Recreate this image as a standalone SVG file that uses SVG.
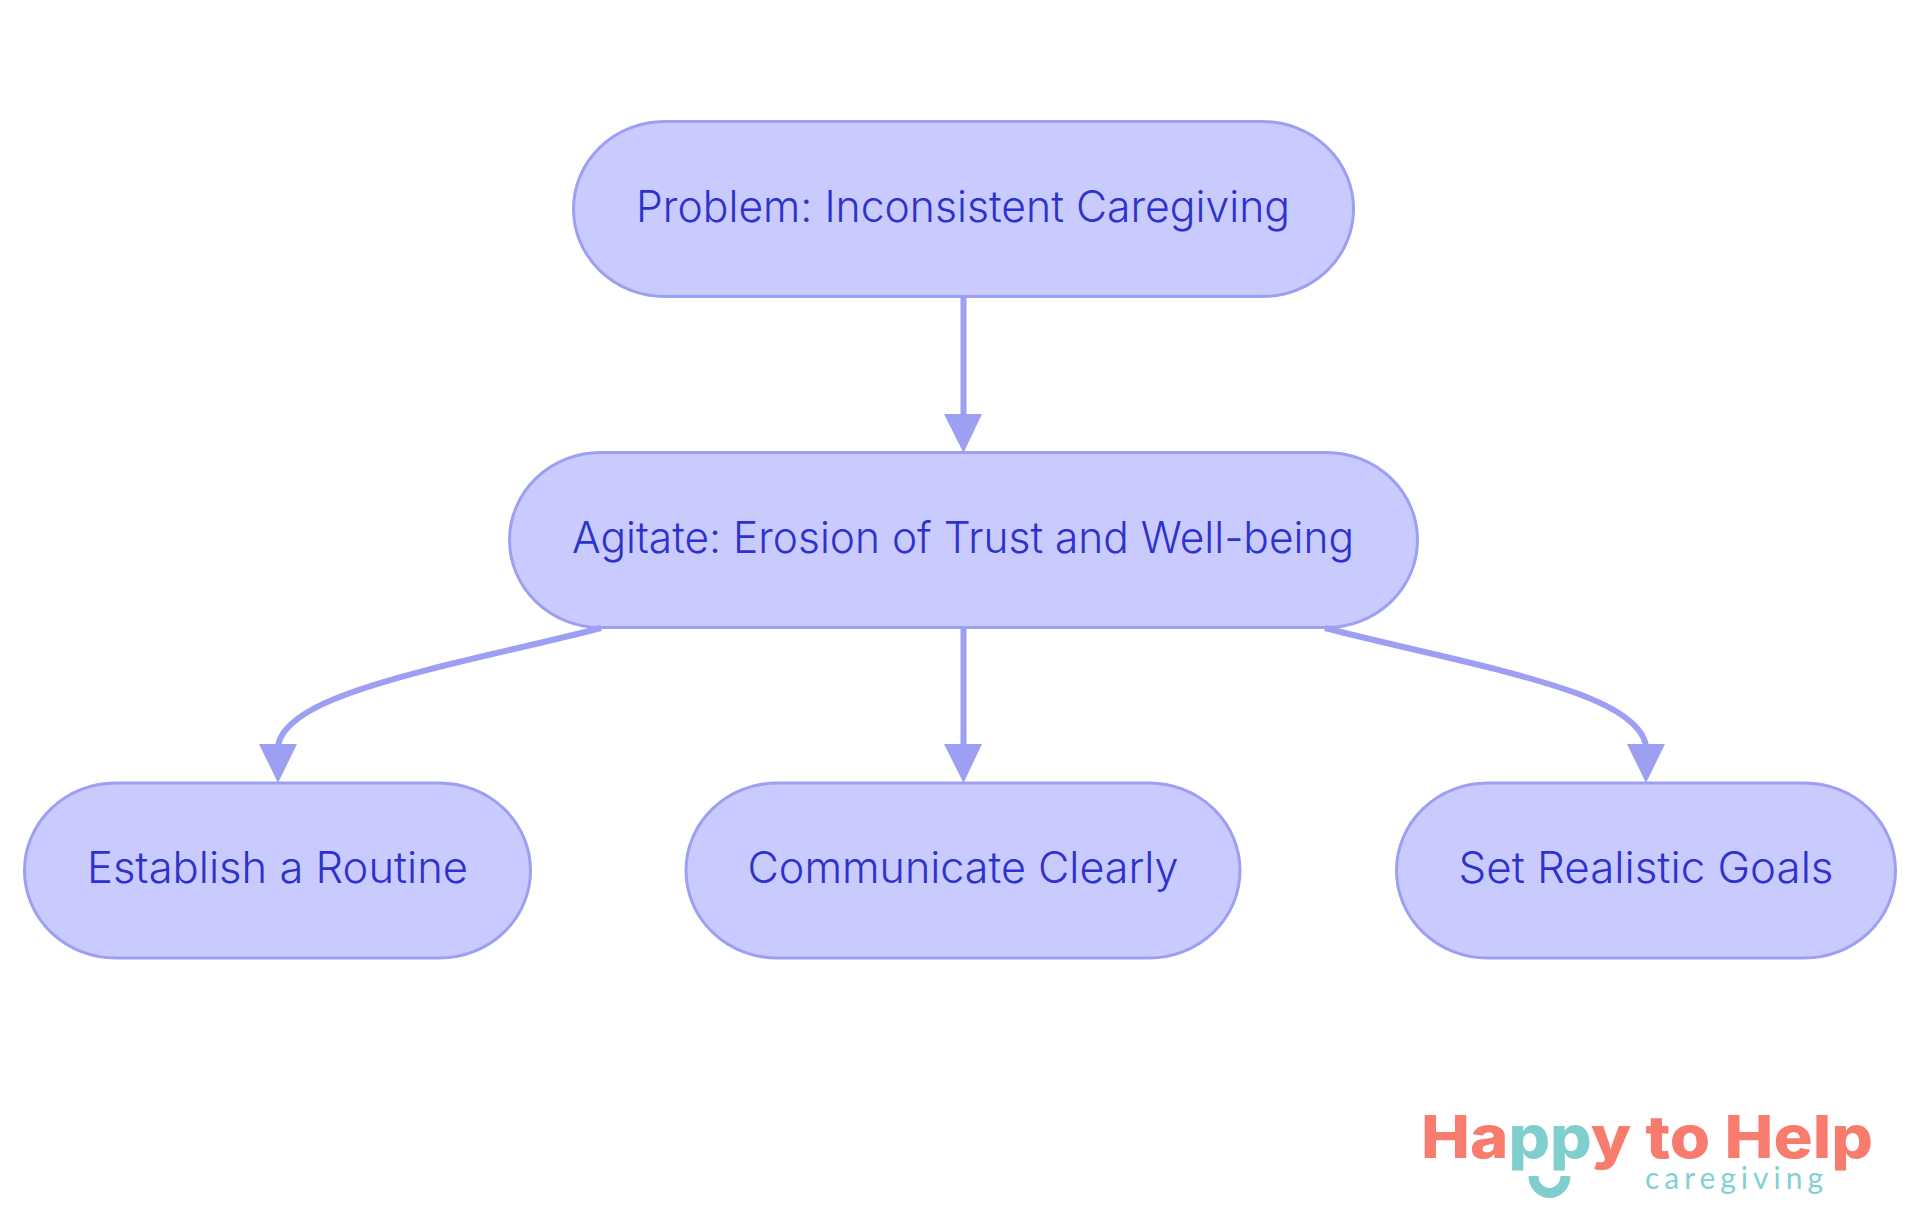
<svg xmlns="http://www.w3.org/2000/svg" width="1920" height="1215" viewBox="0 0 1920 1215">
<style>
.n{fill:#c9cbff;stroke:#9c9ff2;stroke-width:3}
.t{font-family:"Inter","Noto Sans",sans-serif;font-size:43px;font-weight:350;fill:#2d32cc;text-anchor:middle}
.c{fill:none;stroke:#9c9ff2;stroke-width:6}
.a{fill:#9c9ff2}
.l{font-family:"Inter",sans-serif;font-weight:800;font-size:59px;fill:#f87c6d}
.g{font-family:"Lato",sans-serif;font-size:30px;fill:#80d2d2}
</style>
<rect width="1920" height="1215" fill="#fff"/>
<g id="node-problem"><rect class="n" x="573.5" y="121.5" width="780" height="175" rx="91" ry="87.5"/><text class="t" x="963" y="222" textLength="654" lengthAdjust="spacingAndGlyphs">Problem: Inconsistent Caregiving</text></g>
<g id="node-agitate"><rect class="n" x="509.5" y="452.5" width="908" height="175" rx="91" ry="87.5"/><text class="t" x="963" y="553" textLength="782" lengthAdjust="spacingAndGlyphs">Agitate: Erosion of Trust and Well-being</text></g>
<g id="node-routine"><rect class="n" x="24.5" y="783" width="506" height="175" rx="91" ry="87.5"/><text class="t" x="277.5" y="883" textLength="381" lengthAdjust="spacingAndGlyphs">Establish a Routine</text></g>
<g id="node-communicate"><rect class="n" x="686" y="783" width="554" height="175" rx="91" ry="87.5"/><text class="t" x="963" y="883" textLength="431" lengthAdjust="spacingAndGlyphs">Communicate Clearly</text></g>
<g id="node-goals"><rect class="n" x="1396.5" y="783" width="499" height="175" rx="91" ry="87.5"/><text class="t" x="1646" y="883" textLength="375" lengthAdjust="spacingAndGlyphs">Set Realistic Goals</text></g>
<g id="connectors">
<path class="c" d="M963.5 297V416"/><path class="a" d="M944 414H982L963.5 453Z"/>
<path class="c" d="M601 628C520 649 420 668 350 693C305 709 281 727 278 746"/><path class="a" d="M259 744H297L278 783Z"/>
<path class="c" d="M963.5 628V746"/><path class="a" d="M944 744H982L963.5 783Z"/>
<path class="c" d="M1325 628C1406 649 1506 668 1576 693C1620 709 1643 727 1646 746"/><path class="a" d="M1627 744H1665L1646 783Z"/>
</g>
<g id="logo">
<text class="l" x="1421" y="1158" textLength="452" lengthAdjust="spacingAndGlyphs">Ha<tspan fill="#80cfce">pp</tspan>y to Help</text>
<text class="g" x="1645" y="1189" textLength="178">caregiving</text>
<path d="M1533.5 1176A16 17 0 0 0 1565.5 1176" fill="none" stroke="#80cfce" stroke-width="10"/>
</g>
</svg>
